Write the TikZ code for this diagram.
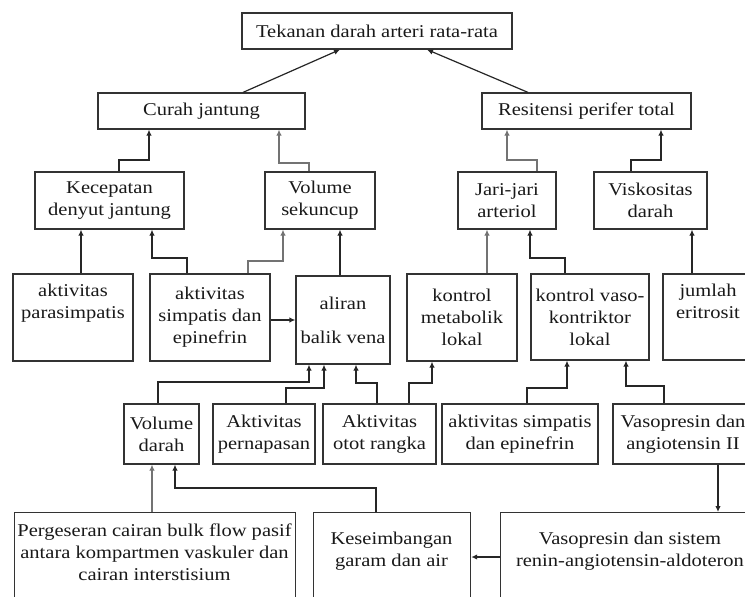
\documentclass[tikz,border=0pt]{standalone}
\usepackage{fontspec}
\setmainfont[FakeStretch=1.14]{Liberation Serif}
\usetikzlibrary{arrows.meta}
\begin{document}
\begin{tikzpicture}[x=1pt,y=-1pt,
  box/.style={draw=black!80, line width=1.2pt, inner sep=0pt, align=center,
    font=\fontsize{18}{22}\selectfont, text=black!90},
  txt/.style={inner sep=0pt, align=center, font=\fontsize{18}{22}\selectfont, text=black!90},
  conn/.style={draw=black!85, line width=1.2pt, -{Latex[length=6pt,width=5.5pt]}},
  conng/.style={conn, draw=black!55},
]
\fill[white] (0,0) rectangle (745,597);
\useasboundingbox (0,0) rectangle (745,597);
\begin{scope}
\clip (0,0) rectangle (745,597);
% row 0
\node[box, minimum width=270, minimum height=36] (top) at (377,31) {Tekanan darah arteri rata-rata};
% row 1
\node[box, minimum width=207, minimum height=36] (curah) at (201.5,111) {Curah jantung};
\node[box, minimum width=209, minimum height=36] (resist) at (586.5,111) {Resitensi perifer total};
% row 2
\node[box, minimum width=149, minimum height=57] (kecep) at (109.5,200.5) {Kecepatan\\denyut jantung};
\node[box, minimum width=110, minimum height=57] (volsek) at (320,200.5) {Volume\\sekuncup};
\node[box, minimum width=98, minimum height=57] (jari) at (507,200.5) {Jari-jari\\arteriol};
\node[box, minimum width=113, minimum height=57] (visk) at (650.5,200.5) {Viskositas\\darah};
% row 3
\node[box, minimum width=120, minimum height=87] (para) at (73,317.5) {aktivitas\\parasimpatis\\[10pt]};
\node[box, minimum width=120, minimum height=87] (simp1) at (210,317.5) {aktivitas\\simpatis dan\\epinefrin};
\node[box, minimum width=94, minimum height=88] (aliran) at (343,320) {aliran\\[12pt]balik vena};
\node[box, minimum width=110, minimum height=87] (kmet) at (462,317.5) {kontrol\\metabolik\\lokal};
\node[box, minimum width=118, minimum height=86] (kvaso) at (590,317) {kontrol vaso-\\kontriktor\\lokal};
\node[box, minimum width=90, minimum height=86] (eritro) at (708,317) {jumlah\\eritrosit\\[10pt]};
% row 4
\node[box, minimum width=75, minimum height=60] (voldar) at (161.5,434) {Volume\\darah};
\node[box, minimum width=102, minimum height=60] (napas) at (264,434) {Aktivitas\\pernapasan};
\node[box, minimum width=113, minimum height=60] (otot) at (379.5,434) {Aktivitas\\otot rangka};
\node[box, minimum width=156, minimum height=60] (simp2) at (520,434) {aktivitas simpatis\\dan epinefrin};
\node[box, minimum width=140, minimum height=60] (vasoang) at (683,434) {Vasopresin dan\\angiotensin II};
% row 5 (cut at the bottom edge)
\node[box, minimum width=281, minimum height=100, anchor=north west] (perg) at (14,512) {};
\node[txt] (pergt) at (154.5,552.5) {Pergeseran cairan bulk flow pasif\\antara kompartmen vaskuler dan\\cairan interstisium};
\node[box, minimum width=157, minimum height=100, anchor=north west] (kesei) at (313,512) {};
\node[txt] (keseit) at (391.5,551) {Keseimbangan\\garam dan air};
\node[box, minimum width=260, minimum height=100, anchor=north west] (renin) at (500,512) {};
\node[txt] (renint) at (630,551) {Vasopresin dan sistem\\renin-angiotensin-aldoteron};
\end{scope}
% connectors
\draw[conn] (243,0 |- curah.north) -- (340,0 |- top.south);
\draw[conn] (528,0 |- resist.north) -- (427,0 |- top.south);
\draw[conn] (119,0 |- kecep.north) -- (119,160) -- (149,160) -- (149,0 |- curah.south);
\draw[conng] (309,0 |- volsek.north) -- (309,163) -- (279,163) -- (279,0 |- curah.south);
\draw[conng] (537,0 |- jari.north) -- (537,160) -- (507,160) -- (507,0 |- resist.south);
\draw[conn] (631,0 |- visk.north) -- (631,160) -- (661,160) -- (661,0 |- resist.south);
\draw[conn] (81,0 |- para.north) -- (81,0 |- kecep.south);
\draw[conn] (187,0 |- simp1.north) -- (187,258) -- (152,258) -- (152,0 |- kecep.south);
\draw[conng] (248,0 |- simp1.north) -- (248,261) -- (283,261) -- (283,0 |- volsek.south);
\draw[conn] (340,0 |- aliran.north) -- (340,0 |- volsek.south);
\draw[conn] (simp1.east |- 0,320) -- (aliran.west |- 0,320);
\draw[conng] (487,0 |- kmet.north) -- (487,0 |- jari.south);
\draw[conn] (565,0 |- kvaso.north) -- (565,258) -- (530,258) -- (530,0 |- jari.south);
\draw[conn] (692,0 |- eritro.north) -- (692,0 |- visk.south);
\draw[conn] (158,0 |- voldar.north) -- (158,382) -- (309,382) -- (309,0 |- aliran.south);
\draw[conn] (286,0 |- napas.north) -- (286,388) -- (324,388) -- (324,0 |- aliran.south);
\draw[conn] (377,0 |- otot.north) -- (377,383) -- (356,383) -- (356,0 |- aliran.south);
\draw[conn] (409,0 |- otot.north) -- (409,383) -- (432,383) -- (432,0 |- kmet.south);
\draw[conn] (527,0 |- simp2.north) -- (527,388) -- (567,388) -- (567,0 |- kvaso.south);
\draw[conn] (664,0 |- vasoang.north) -- (664,386) -- (626,386) -- (626,0 |- kvaso.south);
\draw[conn] (718,0 |- vasoang.south) -- (718,0 |- renin.north);
\draw[conng] (152,0 |- perg.north) -- (152,0 |- voldar.south);
\draw[conn] (376,0 |- kesei.north) -- (376,488) -- (175,488) -- (175,0 |- voldar.south);
\draw[conn] (renin.west |- 0,557) -- (kesei.east |- 0,557);
\end{tikzpicture}
\end{document}
